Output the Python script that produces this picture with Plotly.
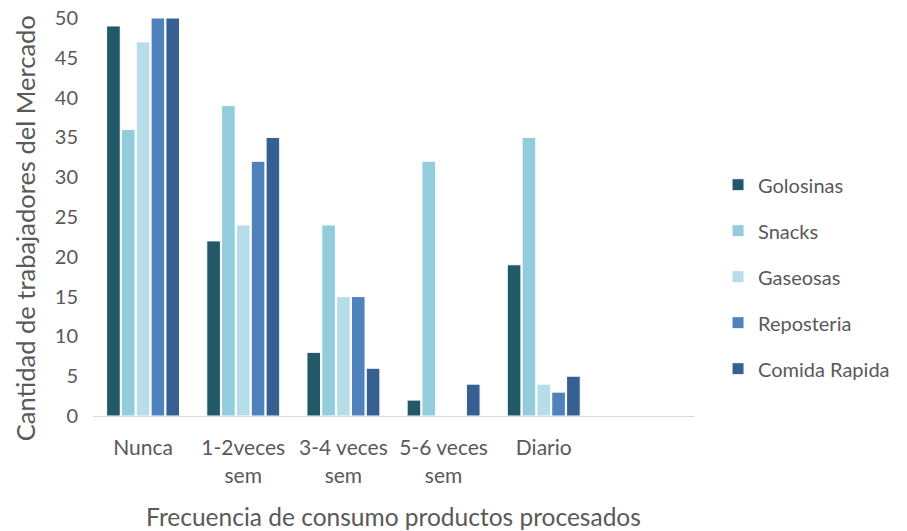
import plotly.graph_objects as go

categories = ["Nunca", "1-2veces<br>sem", "3-4 veces<br>sem", "5-6 veces<br>sem", "Diario"]

golosinas = [49, 22, 8, 2, 19]
snacks = [36, 39, 24, 32, 35]
gaseosas = [47, 24, 15, 0, 4]
reposteria = [50, 32, 15, 0, 3]
comida_rapida = [50, 35, 6, 4, 5]

series = [
    ("Golosinas", golosinas, "#215968"),
    ("Snacks", snacks, "#93CDDD"),
    ("Gaseosas", gaseosas, "#B7DEE8"),
    ("Reposteria", reposteria, "#4F81BD"),
    ("Comida Rapida", comida_rapida, "#366092"),
]

y_title = "Cantidad de trabajadores del Mercado"
x_title = "Frecuencia de consumo productos procesados"

font_family = "Lato, 'Open Sans', sans-serif"
text_color = "#595959"

fig = go.Figure()
for name, values, color in series:
    fig.add_trace(go.Bar(
        x=list(range(len(categories))),
        y=values,
        name=name,
        legendgroup=name,
        marker=dict(color=color, line=dict(color="white", width=1)),
    ))

# Vertical axis title placed as a rotated annotation
fig.add_annotation(
    text=y_title,
    xref="paper", yref="paper",
    x=-0.113, y=0.472,
    xanchor="center", yanchor="middle",
    textangle=-90,
    showarrow=False,
    font=dict(size=25.5, color=text_color, family=font_family),
)

fig.update_layout(
    width=907,
    height=531,
    margin=dict(l=93, r=210, t=18, b=115),
    paper_bgcolor="white",
    plot_bgcolor="white",
    barmode="group",
    bargap=0.26,
    bargroupgap=0.08,
    font=dict(family=font_family, color=text_color, size=21),
    showlegend=True,
    legend=dict(
        x=1.04, xanchor="left",
        y=0.35, yanchor="middle",
        traceorder="grouped",
        tracegroupgap=17,
        itemwidth=30,
        font=dict(size=20, color=text_color),
        bgcolor="rgba(0,0,0,0)",
    ),
    xaxis=dict(
        tickmode="array",
        tickvals=list(range(len(categories))),
        ticktext=categories,
        range=[-0.5, 5.5],
        showline=True,
        linecolor="#D9D9D9",
        linewidth=1,
        ticks="",
        showgrid=False,
        zeroline=False,
        automargin=False,
        ticklabelstandoff=13,
        tickfont=dict(size=21, color=text_color),
        title=dict(text=x_title,
                   font=dict(size=24.5, color=text_color), standoff=24),
    ),
    yaxis=dict(
        range=[0, 50],
        dtick=5,
        tick0=0,
        showgrid=False,
        zeroline=False,
        showline=False,
        ticks="",
        automargin=False,
        ticklabelstandoff=14,
        tickfont=dict(size=20, color=text_color),
    ),
)

fig.write_html("out.html")
